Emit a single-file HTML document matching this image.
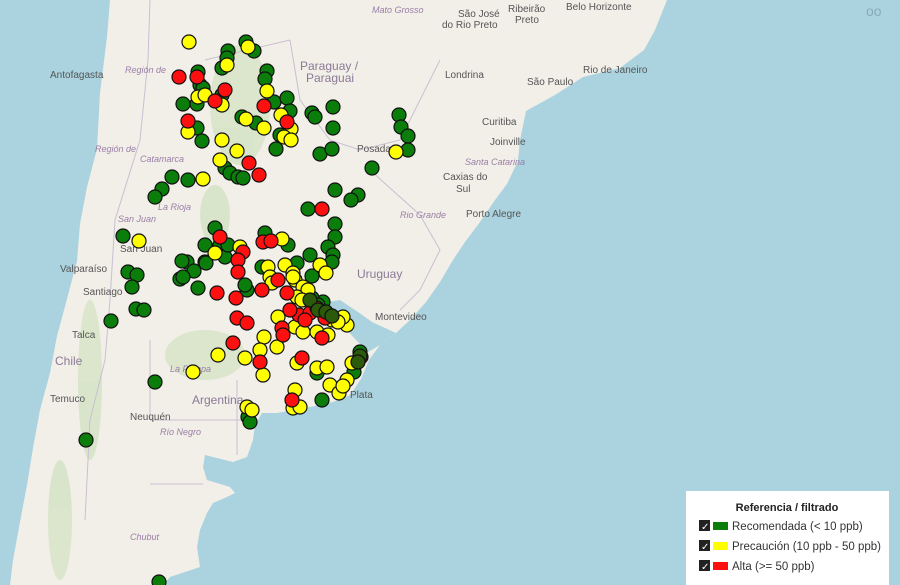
<!DOCTYPE html>
<html><head><meta charset="utf-8"><style>
html,body{margin:0;padding:0;width:900px;height:585px;overflow:hidden;background:#aad3df}
svg{display:block}
.c{font-family:"Liberation Sans",sans-serif;fill:#555;font-size:10px}
.r{font-family:"Liberation Sans",sans-serif;fill:#9a7ea6;font-size:9px;font-style:italic}
.k{font-family:"Liberation Sans",sans-serif;fill:#8a7a96;font-size:12px}
</style></head><body>
<svg width="900" height="585" viewBox="0 0 900 585" xmlns="http://www.w3.org/2000/svg">
<rect width="900" height="585" fill="#aad3df"/>
<path d="M110,0 L667,0 L655,30 L644,50 L620,68 L583,77 L555,95 L526,111 L520,140 L518,161 L507,184 L495,200 L480,222 L465,242 L453,260 L440,282 L426,302 L410,320 L396,333 L380,345 L369,360 L361,379 L350,395 L333,402 L310,407 L277,413 L262,413 L255,425 L253,440 L247,457 L233,462 L217,458 L205,455 L203,467 L207,480 L217,483 L230,487 L235,493 L227,497 L213,503 L207,513 L200,530 L197,547 L200,567 L170,577 L163,585 L10,585 L13,560 L20,522 L27,485 L33,448 L40,410 L50,373 L57,336 L67,299 L77,261 L80,224 L87,187 L97,149 L100,93 L107,37 Z" fill="#f2efe9"/>
<path d="M322,303 L340,300 L358,312 L372,322 L396,333 L380,345 L368,352 L356,340 L345,328 L332,315 Z" fill="#aad3df"/>
<g fill="#d4e3c4" opacity="0.8">
<ellipse cx="240" cy="105" rx="30" ry="60"/><ellipse cx="215" cy="215" rx="15" ry="30"/><ellipse cx="205" cy="355" rx="40" ry="25"/><ellipse cx="90" cy="380" rx="12" ry="80"/><ellipse cx="60" cy="520" rx="12" ry="60"/>
</g>
<g fill="none" stroke="#c9bfd1" stroke-width="1">
<path d="M150,0 L148,60 L140,140 L115,220 L110,300 L105,360 L90,420 L85,520"/>
<path d="M290,40 L300,100 L330,140 L360,150 L400,140 L420,100 L440,60"/>
<path d="M205,60 L290,40"/><path d="M150,420 L250,420"/><path d="M150,340 L150,420"/>
<path d="M370,170 L420,215 L440,250 L420,290 L400,310"/>
<path d="M150,484 L203,484"/><path d="M237,380 L237,455"/>
</g>
<text class="c" x="50" y="78">Antofagasta</text>
<text class="c" x="60" y="272">Valparaíso</text>
<text class="c" x="83" y="295">Santiago</text>
<text class="c" x="72" y="338">Talca</text>
<text class="c" x="50" y="402">Temuco</text>
<text class="c" x="130" y="420">Neuquén</text>
<text class="c" x="120" y="252">San Juan</text>
<text class="k" x="55" y="365">Chile</text>
<text class="k" x="192" y="404">Argentina</text>
<text class="k" x="300" y="70">Paraguay /</text>
<text class="k" x="306" y="82">Paraguai</text>
<text class="k" x="357" y="278">Uruguay</text>
<text class="c" x="375" y="320">Montevideo</text>
<text class="c" x="350" y="398">Plata</text>
<text class="c" x="445" y="78">Londrina</text>
<text class="c" x="527" y="85">São Paulo</text>
<text class="c" x="583" y="73">Rio de Janeiro</text>
<text class="c" x="482" y="125">Curitiba</text>
<text class="c" x="490" y="145">Joinville</text>
<text class="c" x="443" y="180">Caxias do</text>
<text class="c" x="456" y="192">Sul</text>
<text class="c" x="466" y="217">Porto Alegre</text>
<text class="c" x="458" y="17">São José</text>
<text class="c" x="442" y="28">do Rio Preto</text>
<text class="c" x="508" y="12">Ribeirão</text>
<text class="c" x="515" y="23">Preto</text>
<text class="c" x="566" y="10">Belo Horizonte</text>
<text class="c" x="357" y="152">Posadas</text>
<text class="r" x="125" y="73">Región de</text>
<text class="r" x="95" y="152">Región de</text>
<text class="r" x="140" y="162">Catamarca</text>
<text class="r" x="158" y="210">La Rioja</text>
<text class="r" x="118" y="222">San Juan</text>
<text class="r" x="170" y="372">La Pampa</text>
<text class="r" x="160" y="435">Río Negro</text>
<text class="r" x="130" y="540">Chubut</text>
<text class="r" x="400" y="218">Rio Grande</text>
<text class="r" x="465" y="165">Santa Catarina</text>
<text class="r" x="372" y="13">Mato Grosso</text>
<g stroke="#111" stroke-width="1.2">
<g fill="#0a7d0a">
<circle cx="246" cy="42" r="7"/><circle cx="254" cy="51" r="7"/><circle cx="228" cy="51" r="7"/><circle cx="227" cy="58" r="7"/><circle cx="222" cy="68" r="7"/><circle cx="198" cy="72" r="7"/><circle cx="200" cy="85" r="7"/><circle cx="203" cy="88" r="7"/><circle cx="222" cy="95" r="7"/><circle cx="183" cy="104" r="7"/><circle cx="197" cy="104" r="7"/><circle cx="267" cy="71" r="7"/><circle cx="265" cy="79" r="7"/><circle cx="274" cy="102" r="7"/><circle cx="287" cy="98" r="7"/><circle cx="290" cy="111" r="7"/><circle cx="280" cy="135" r="7"/><circle cx="276" cy="149" r="7"/><circle cx="312" cy="113" r="7"/><circle cx="315" cy="117" r="7"/><circle cx="333" cy="107" r="7"/><circle cx="333" cy="128" r="7"/><circle cx="320" cy="154" r="7"/><circle cx="332" cy="149" r="7"/><circle cx="399" cy="115" r="7"/><circle cx="401" cy="127" r="7"/><circle cx="408" cy="136" r="7"/><circle cx="408" cy="150" r="7"/><circle cx="372" cy="168" r="7"/><circle cx="197" cy="128" r="7"/><circle cx="202" cy="141" r="7"/><circle cx="242" cy="117" r="7"/><circle cx="256" cy="123" r="7"/><circle cx="225" cy="168" r="7"/><circle cx="230" cy="173" r="7"/><circle cx="238" cy="177" r="7"/><circle cx="243" cy="178" r="7"/><circle cx="172" cy="177" r="7"/><circle cx="188" cy="180" r="7"/><circle cx="162" cy="189" r="7"/><circle cx="155" cy="197" r="7"/><circle cx="335" cy="190" r="7"/><circle cx="358" cy="195" r="7"/><circle cx="351" cy="200" r="7"/><circle cx="308" cy="209" r="7"/><circle cx="335" cy="224" r="7"/><circle cx="335" cy="237" r="7"/><circle cx="328" cy="247" r="7"/><circle cx="333" cy="255" r="7"/><circle cx="332" cy="262" r="7"/><circle cx="310" cy="255" r="7"/><circle cx="312" cy="276" r="7"/><circle cx="215" cy="228" r="7"/><circle cx="205" cy="245" r="7"/><circle cx="220" cy="245" r="7"/><circle cx="225" cy="257" r="7"/><circle cx="228" cy="245" r="7"/><circle cx="265" cy="233" r="7"/><circle cx="288" cy="245" r="7"/><circle cx="187" cy="262" r="7"/><circle cx="194" cy="271" r="7"/><circle cx="205" cy="262" r="7"/><circle cx="180" cy="279" r="7"/><circle cx="183" cy="277" r="7"/><circle cx="198" cy="288" r="7"/><circle cx="262" cy="267" r="7"/><circle cx="297" cy="263" r="7"/><circle cx="247" cy="290" r="7"/><circle cx="245" cy="285" r="7"/><circle cx="123" cy="236" r="7"/><circle cx="128" cy="272" r="7"/><circle cx="137" cy="275" r="7"/><circle cx="132" cy="287" r="7"/><circle cx="136" cy="309" r="7"/><circle cx="144" cy="310" r="7"/><circle cx="111" cy="321" r="7"/><circle cx="155" cy="382" r="7"/><circle cx="86" cy="440" r="7"/><circle cx="159" cy="582" r="7"/><circle cx="182" cy="261" r="7"/><circle cx="206" cy="263" r="7"/><circle cx="323" cy="302" r="7"/><circle cx="312" cy="298" r="7"/><circle cx="318" cy="305" r="7"/><circle cx="317" cy="373" r="7"/><circle cx="354" cy="372" r="7"/><circle cx="360" cy="352" r="7"/><circle cx="322" cy="400" r="7"/><circle cx="248" cy="417" r="7"/><circle cx="250" cy="422" r="7"/>
</g>
<g fill="#ffff00">
<circle cx="189" cy="42" r="7"/><circle cx="248" cy="47" r="7"/><circle cx="227" cy="65" r="7"/><circle cx="198" cy="97" r="7"/><circle cx="205" cy="95" r="7"/><circle cx="222" cy="105" r="7"/><circle cx="267" cy="91" r="7"/><circle cx="281" cy="115" r="7"/><circle cx="291" cy="129" r="7"/><circle cx="284" cy="137" r="7"/><circle cx="291" cy="140" r="7"/><circle cx="396" cy="152" r="7"/><circle cx="188" cy="132" r="7"/><circle cx="246" cy="119" r="7"/><circle cx="264" cy="128" r="7"/><circle cx="222" cy="140" r="7"/><circle cx="237" cy="151" r="7"/><circle cx="220" cy="160" r="7"/><circle cx="203" cy="179" r="7"/><circle cx="320" cy="265" r="7"/><circle cx="326" cy="273" r="7"/><circle cx="215" cy="253" r="7"/><circle cx="240" cy="247" r="7"/><circle cx="282" cy="239" r="7"/><circle cx="268" cy="267" r="7"/><circle cx="285" cy="265" r="7"/><circle cx="270" cy="277" r="7"/><circle cx="272" cy="283" r="7"/><circle cx="293" cy="273" r="7"/><circle cx="295" cy="280" r="7"/><circle cx="303" cy="287" r="7"/><circle cx="308" cy="290" r="7"/><circle cx="297" cy="297" r="7"/><circle cx="302" cy="300" r="7"/><circle cx="293" cy="277" r="7"/><circle cx="139" cy="241" r="7"/><circle cx="264" cy="337" r="7"/><circle cx="260" cy="350" r="7"/><circle cx="245" cy="358" r="7"/><circle cx="263" cy="375" r="7"/><circle cx="277" cy="347" r="7"/><circle cx="218" cy="355" r="7"/><circle cx="193" cy="372" r="7"/><circle cx="278" cy="317" r="7"/><circle cx="295" cy="327" r="7"/><circle cx="303" cy="332" r="7"/><circle cx="317" cy="332" r="7"/><circle cx="328" cy="335" r="7"/><circle cx="332" cy="320" r="7"/><circle cx="347" cy="325" r="7"/><circle cx="343" cy="317" r="7"/><circle cx="338" cy="322" r="7"/><circle cx="297" cy="363" r="7"/><circle cx="317" cy="368" r="7"/><circle cx="327" cy="367" r="7"/><circle cx="330" cy="385" r="7"/><circle cx="339" cy="393" r="7"/><circle cx="347" cy="380" r="7"/><circle cx="352" cy="363" r="7"/><circle cx="343" cy="386" r="7"/><circle cx="295" cy="390" r="7"/><circle cx="293" cy="408" r="7"/><circle cx="300" cy="407" r="7"/><circle cx="247" cy="407" r="7"/><circle cx="252" cy="410" r="7"/>
</g>
<g fill="#ff1010">
<circle cx="179" cy="77" r="7"/><circle cx="197" cy="77" r="7"/><circle cx="225" cy="90" r="7"/><circle cx="215" cy="101" r="7"/><circle cx="264" cy="106" r="7"/><circle cx="287" cy="122" r="7"/><circle cx="188" cy="121" r="7"/><circle cx="249" cy="163" r="7"/><circle cx="259" cy="175" r="7"/><circle cx="322" cy="209" r="7"/><circle cx="220" cy="237" r="7"/><circle cx="243" cy="252" r="7"/><circle cx="238" cy="260" r="7"/><circle cx="238" cy="272" r="7"/><circle cx="263" cy="242" r="7"/><circle cx="271" cy="241" r="7"/><circle cx="278" cy="280" r="7"/><circle cx="262" cy="290" r="7"/><circle cx="217" cy="293" r="7"/><circle cx="236" cy="298" r="7"/><circle cx="287" cy="293" r="7"/><circle cx="237" cy="318" r="7"/><circle cx="247" cy="323" r="7"/><circle cx="233" cy="343" r="7"/><circle cx="260" cy="362" r="7"/><circle cx="282" cy="328" r="7"/><circle cx="283" cy="335" r="7"/><circle cx="299" cy="315" r="7"/><circle cx="310" cy="313" r="7"/><circle cx="317" cy="308" r="7"/><circle cx="322" cy="338" r="7"/><circle cx="305" cy="320" r="7"/><circle cx="325" cy="318" r="7"/><circle cx="302" cy="358" r="7"/><circle cx="361" cy="357" r="7"/><circle cx="292" cy="400" r="7"/><circle cx="290" cy="310" r="7"/>
</g>
<g fill="#2a5a0a">
<circle cx="310" cy="300" r="7"/><circle cx="318" cy="310" r="7"/><circle cx="326" cy="312" r="7"/><circle cx="332" cy="316" r="7"/><circle cx="360" cy="356" r="7"/><circle cx="358" cy="362" r="7"/>
</g>
</g>
<text x="866" y="16" font-family="Liberation Sans,sans-serif" font-size="14" fill="#8ab">oo</text>
<rect x="686" y="491" width="203" height="94" fill="#fff"/>
<text x="787" y="511" text-anchor="middle" font-family="Liberation Sans,sans-serif" font-size="11" font-weight="bold" fill="#222">Referencia / filtrado</text>
<g font-family="Liberation Sans,sans-serif" font-size="11.5" fill="#333">
<rect x="699" y="520" width="11" height="11" fill="#222"/><text x="701" y="530" fill="#fff" font-size="10">✓</text><rect x="713" y="522" width="15" height="8" fill="#0a7d0a"/><text x="732" y="530">Recomendada (&lt; 10 ppb)</text>
<rect x="699" y="540" width="11" height="11" fill="#222"/><text x="701" y="550" fill="#fff" font-size="10">✓</text><rect x="713" y="542" width="15" height="8" fill="#ffff00"/><text x="732" y="550">Precaución (10 ppb - 50 ppb)</text>
<rect x="699" y="560" width="11" height="11" fill="#222"/><text x="701" y="570" fill="#fff" font-size="10">✓</text><rect x="713" y="562" width="15" height="8" fill="#ff1010"/><text x="732" y="570">Alta (&gt;= 50 ppb)</text>
</g>
</svg>
</body></html>
